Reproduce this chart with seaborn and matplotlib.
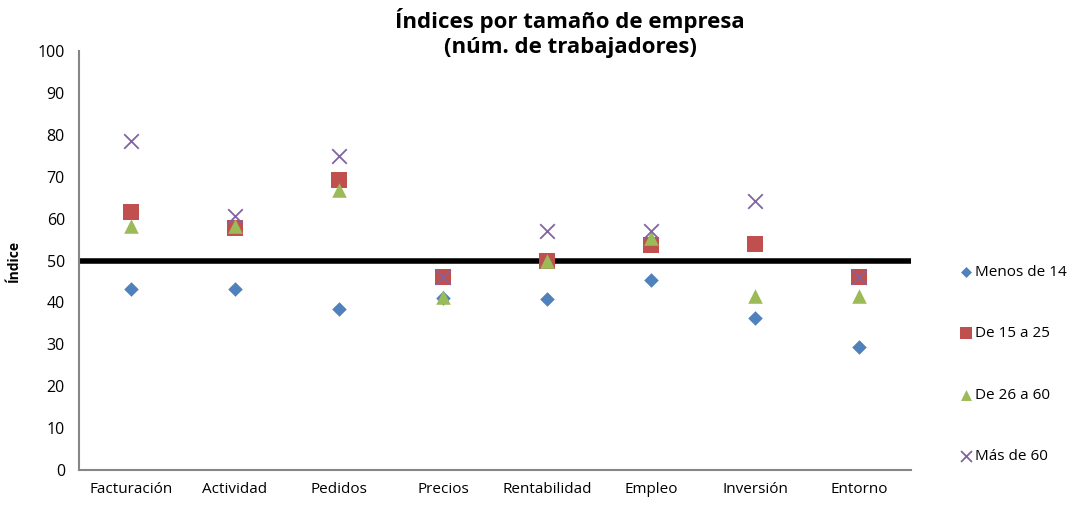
import pandas as pd
import seaborn as sns
import matplotlib.pyplot as plt

categorias = ['Facturación', 'Actividad', 'Pedidos', 'Precios',
              'Rentabilidad', 'Empleo', 'Inversión', 'Entorno']
series = ['Menos de 14', 'De 15 a 25', 'De 26 a 60', 'Más de 60']
menos_14 = [43.1, 43.2, 38.4, 41.0, 40.8, 45.3, 36.2, 29.4]
de_15_25 = [61.5, 57.8, 69.2, 46.1, 49.9, 53.7, 53.9, 46.1]
de_26_60 = [58.2, 58.2, 66.8, 41.4, 50.0, 55.4, 41.5, 41.5]
mas_60 = [78.6, 60.7, 75.0, 46.1, 57.1, 57.1, 64.2, 46.1]
referencia = 50

# tabla larga para seaborn
filas = []
for nombre, valores in zip(series, [menos_14, de_15_25, de_26_60, mas_60]):
    for cat, v in zip(categorias, valores):
        filas.append({'categoria': cat, 'serie': nombre, 'indice': v})
datos = pd.DataFrame(filas)
datos['pos'] = datos['categoria'].map({c: i for i, c in enumerate(categorias)})

sns.set_style('white')
plt.rcParams['font.family'] = ['Open Sans', 'DejaVu Sans']
plt.rcParams['text.color'] = 'black'
plt.rcParams['xtick.color'] = 'black'
plt.rcParams['ytick.color'] = 'black'
plt.rcParams['axes.labelcolor'] = 'black'

colores = dict(zip(series, ['#4F81BD', '#C0504D', '#9BBB59', '#8064A2']))
marcadores = dict(zip(series, ['D', 's', '^', 'x']))
tamanos = {'D': 55, 's': 120, '^': 110, 'x': 110}

fig = plt.figure(figsize=(10.8, 5.07), dpi=100)
ax = fig.add_axes([0.073, 0.073, 0.7705, 0.826])

ax.axhline(referencia, color='black', lw=4, zorder=1)

for nombre in series:
    sub = datos[datos['serie'] == nombre]
    m = marcadores[nombre]
    sns.scatterplot(data=sub, x='pos', y='indice', color=colores[nombre],
                    marker=m, s=tamanos[m], linewidth=1.3 if m == 'x' else 0,
                    label=nombre, ax=ax, zorder=3)

ax.set_xlim(-0.5, len(categorias) - 0.5)
ax.set_ylim(0, 100)
ax.set_xticks(range(len(categorias)))
ax.set_xticklabels(categorias, fontsize=11)
ax.set_yticks(range(0, 101, 10))
ax.tick_params(axis='y', labelsize=11.5, length=0, pad=10)
ax.tick_params(axis='x', length=0, pad=9)
ax.set_xlabel('')
ax.set_ylabel('Índice', fontsize=10, fontweight='bold', labelpad=12)
for lado in ['top', 'right']:
    ax.spines[lado].set_visible(False)
for lado in ['left', 'bottom']:
    ax.spines[lado].set_color('#868686')
    ax.spines[lado].set_linewidth(1.5)

fig.text(0.528, 0.985, 'Índices por tamaño de empresa\n(núm. de trabajadores)',
         ha='center', va='top', fontsize=16, fontweight='bold', linespacing=1.25)

ax.legend(loc='upper left', bbox_to_anchor=(1.05, 0.505), frameon=False,
          fontsize=11, labelspacing=3.05, handletextpad=0.15, handlelength=0.9,
          markerscale=0.75, borderaxespad=0)

fig.savefig('out.png', dpi=100)
